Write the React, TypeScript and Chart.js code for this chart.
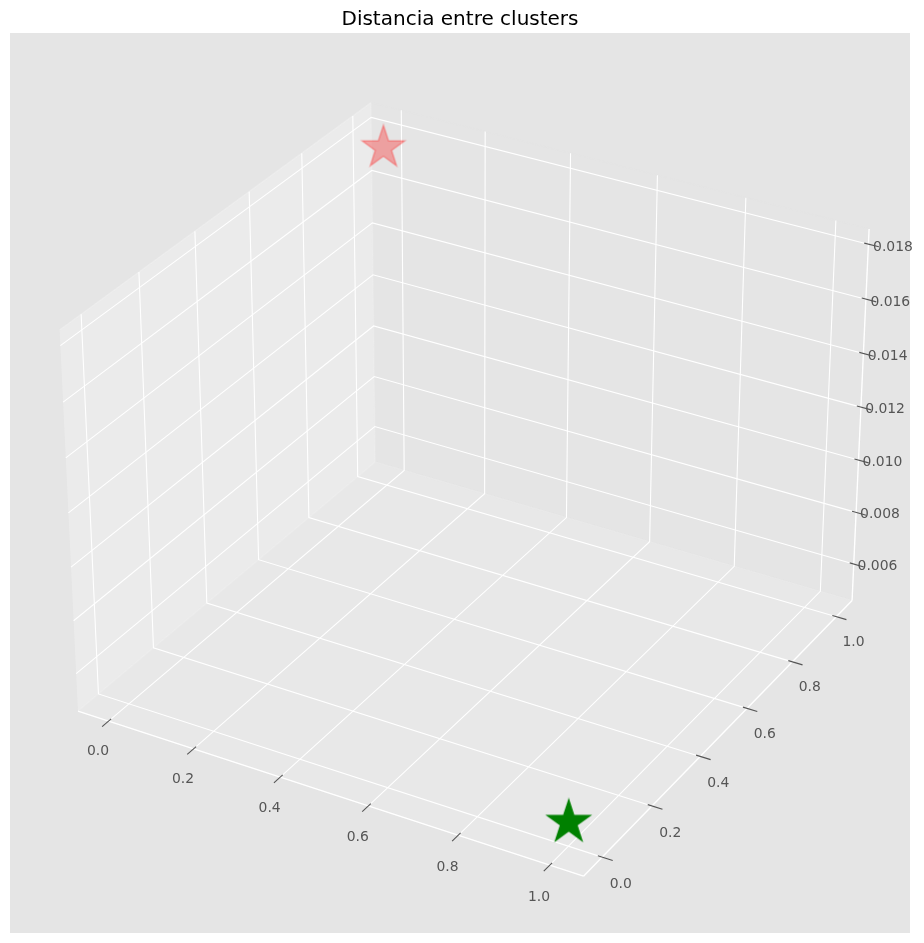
import { useEffect, useRef } from "react";
import { Chart, registerables } from "chart.js";

Chart.register(...registerables);

// --- data ---
const CLUSTER_NAMES = ["Cluster 0", "Cluster 1"];
const CLUSTER_X = [0, 1];
const CLUSTER_Y = [1, 0];
const CLUSTER_Z = [0.01766, 0.00546];
const CLUSTER_COLORS = ["rgba(255,0,0,0.3)", "rgba(0,128,0,1)"];

const X_TICK_LABELS = ["0.0", "0.2", "0.4", "0.6", "0.8", "1.0"];
const Y_TICK_LABELS = ["0.0", "0.2", "0.4", "0.6", "0.8", "1.0"];
const Z_TICK_LABELS = ["0.006", "0.008", "0.010", "0.012", "0.014", "0.016", "0.018"];

const TITLE = "Distancia entre clusters";

// --- 3d view (matplotlib default camera) ---
const ELEV = 30;
const AZIM = -60;
const DIST = 10;
const BOX_ASPECT = [4, 4, 3];
const VIEW_X = [-0.095, 0.09];
const VIEW_Y = [-0.095, 0.09];

const FONT = "'DejaVu Sans', sans-serif";
const TICK_COLOR = "#555555";

type Lim = [number, number];

function paddedLimits(values: number[]): Lim {
  const lo = Math.min(...values);
  const hi = Math.max(...values);
  const r = hi - lo;
  const a = lo - 0.05 * r;
  const b = hi + 0.05 * r;
  const pad = (b - a) / 48;
  return [a - pad, b + pad];
}

const LIM_X = paddedLimits(CLUSTER_X);
const LIM_Y = paddedLimits(CLUSTER_Y);
const LIM_Z = paddedLimits(CLUSTER_Z);

function makeProjector() {
  const n = Math.hypot(...BOX_ASPECT);
  const asp = BOX_ASPECT.map(v => (v * 1.8294640721620434 * 25) / 24 / n);
  const e = (ELEV * Math.PI) / 180;
  const a = (AZIM * Math.PI) / 180;
  const w = [Math.cos(e) * Math.cos(a), Math.cos(e) * Math.sin(a), Math.sin(e)];
  const eye = asp.map((v, i) => v / 2 + DIST * w[i]);
  const un = Math.hypot(w[0], w[1]);
  const u = [-w[1] / un, w[0] / un, 0];
  const v = [
    w[1] * u[2] - w[2] * u[1],
    w[2] * u[0] - w[0] * u[2],
    w[0] * u[1] - w[1] * u[0],
  ];
  const lims = [LIM_X, LIM_Y, LIM_Z];
  return (x: number, y: number, z: number) => {
    const p = [x, y, z].map((val, i) => ((val - lims[i][0]) / (lims[i][1] - lims[i][0])) * asp[i]);
    const d = p.map((val, i) => val - eye[i]);
    const xv = u[0] * d[0] + u[1] * d[1] + u[2] * d[2];
    const yv = v[0] * d[0] + v[1] * d[1] + v[2] * d[2];
    const zv = w[0] * d[0] + w[1] * d[1] + w[2] * d[2];
    return { x: xv / -zv, y: yv / -zv };
  };
}

const project = makeProjector();

function starImage(color: string, radius: number) {
  const size = 2 * Math.ceil(radius + 2);
  const c = document.createElement("canvas");
  c.width = size;
  c.height = size;
  const ctx = c.getContext("2d")!;
  const cx = size / 2;
  ctx.beginPath();
  for (let k = 0; k < 10; k++) {
    const ang = Math.PI / 2 + (k * Math.PI) / 5;
    const r = k % 2 === 0 ? radius : radius * 0.381966;
    const px = cx + r * Math.cos(ang);
    const py = cx - r * Math.sin(ang);
    if (k === 0) ctx.moveTo(px, py);
    else ctx.lineTo(px, py);
  }
  ctx.closePath();
  ctx.fillStyle = color;
  ctx.fill();
  ctx.strokeStyle = color;
  ctx.lineWidth = 1.39;
  ctx.lineJoin = "miter";
  ctx.stroke();
  return c;
}

const axes3dPlugin = {
  id: "axes3d",
  beforeDraw(chart: Chart) {
    const { ctx, chartArea } = chart;
    ctx.save();
    ctx.fillStyle = "#E5E5E5";
    ctx.fillRect(chartArea.left, chartArea.top, chartArea.right - chartArea.left, chartArea.bottom - chartArea.top);
    ctx.fillStyle = "#000000";
    ctx.font = `20px ${FONT}`;
    ctx.textAlign = "center";
    ctx.textBaseline = "alphabetic";
    ctx.fillText(TITLE, (chartArea.left + chartArea.right) / 2, chartArea.top - 8);
    ctx.restore();
  },
  beforeDatasetsDraw(chart: Chart) {
    const { ctx } = chart;
    const xs = chart.scales.x;
    const ys = chart.scales.y;
    const P = (x: number, y: number, z: number) => {
      const q = project(x, y, z);
      return [xs.getPixelForValue(q.x), ys.getPixelForValue(q.y)];
    };
    const [X0, X1] = LIM_X;
    const [Y0, Y1] = LIM_Y;
    const [Z0, Z1] = LIM_Z;
    const dx = X1 - X0, dy = Y1 - Y0, dz = Z1 - Z0;

    const poly = (pts: number[][], close: boolean) => {
      ctx.beginPath();
      pts.forEach((p, i) => {
        const [px, py] = P(p[0], p[1], p[2]);
        if (i === 0) ctx.moveTo(px, py);
        else ctx.lineTo(px, py);
      });
      if (close) ctx.closePath();
    };

    ctx.save();
    // panes
    const panes: [number[][], string][] = [
      [[[X0, Y0, Z0], [X0, Y1, Z0], [X0, Y1, Z1], [X0, Y0, Z1]], "rgba(242,242,242,0.5)"],
      [[[X0, Y1, Z0], [X1, Y1, Z0], [X1, Y1, Z1], [X0, Y1, Z1]], "rgba(230,230,230,0.5)"],
      [[[X0, Y0, Z0], [X1, Y0, Z0], [X1, Y1, Z0], [X0, Y1, Z0]], "rgba(236,236,236,0.5)"],
    ];
    for (const [pts, col] of panes) {
      poly(pts, true);
      ctx.fillStyle = col;
      ctx.fill();
      poly(pts, false);
      ctx.strokeStyle = col;
      ctx.lineWidth = 1.39;
      ctx.stroke();
    }

    // grid lines
    ctx.strokeStyle = "#FFFFFF";
    ctx.lineWidth = 1.1;
    X_TICK_LABELS.map(Number).forEach(t => {
      poly([[t, Y0, Z0], [t, Y1, Z0], [t, Y1, Z1]], false);
      ctx.stroke();
    });
    Y_TICK_LABELS.map(Number).forEach(t => {
      poly([[X1, t, Z0], [X0, t, Z0], [X0, t, Z1]], false);
      ctx.stroke();
    });
    Z_TICK_LABELS.map(Number).forEach(t => {
      poly([[X0, Y0, t], [X0, Y1, t], [X1, Y1, t]], false);
      ctx.stroke();
    });

    // axis lines
    ctx.lineWidth = 1.39;
    poly([[X0, Y0, Z0], [X1, Y0, Z0]], false);
    ctx.stroke();
    poly([[X1, Y0, Z0], [X1, Y1, Z0]], false);
    ctx.stroke();
    poly([[X1, Y1, Z0], [X1, Y1, Z1]], false);
    ctx.stroke();

    // ticks and labels
    const TIN = 0.008, TOUT = 0.02;
    ctx.strokeStyle = TICK_COLOR;
    ctx.lineWidth = 1.1;
    ctx.fillStyle = TICK_COLOR;
    ctx.font = `13.9px ${FONT}`;
    ctx.textAlign = "center";
    ctx.textBaseline = "middle";

    X_TICK_LABELS.forEach(lbl => {
      const t = Number(lbl);
      poly([[t, Y0 + TIN * dy, Z0], [t, Y0 - TOUT * dy, Z0]], false);
      ctx.stroke();
      const [lx, ly] = P(t, Y0 - 0.0355 * dy, Z0 - 0.057 * dz);
      ctx.fillText(lbl, lx, ly);
    });
    Y_TICK_LABELS.forEach(lbl => {
      const t = Number(lbl);
      poly([[X1 - TIN * dx, t, Z0], [X1 + TOUT * dx, t, Z0]], false);
      ctx.stroke();
      const [lx, ly] = P(X1 + 0.0359 * dx, t, Z0 - 0.057 * dz);
      ctx.fillText(lbl, lx, ly);
    });
    Z_TICK_LABELS.forEach(lbl => {
      const t = Number(lbl);
      poly([[X1 - TIN * dx, Y1, t], [X1 + TOUT * dx, Y1, t]], false);
      ctx.stroke();
      const [lx, ly] = P(X1 + 0.032 * dx, Y1 + 0.032 * dy, t - 0.016 * dz);
      ctx.fillText(lbl, lx, ly);
    });
    ctx.restore();
  },
};

export default function App() {
  const canvasRef = useRef<HTMLCanvasElement>(null);
  const chartRef = useRef<Chart | null>(null);

  useEffect(() => {
    if (!canvasRef.current) return;
    if (chartRef.current) chartRef.current.destroy();

    // farthest cluster first so the nearer one is drawn on top
    const datasets = CLUSTER_NAMES.map((name, i) => {
      const q = project(CLUSTER_X[i], CLUSTER_Y[i], CLUSTER_Z[i]);
      return {
        label: name,
        data: [{ x: q.x, y: q.y }],
        pointStyle: starImage(CLUSTER_COLORS[i], 22.4),
        pointRadius: 22,
        backgroundColor: CLUSTER_COLORS[i],
        borderColor: CLUSTER_COLORS[i],
      };
    });

    chartRef.current = new Chart(canvasRef.current, {
      type: "scatter",
      data: { datasets },
      options: {
        animation: false,
        responsive: true,
        maintainAspectRatio: false,
        events: [],
        layout: { autoPadding: false, padding: { left: 2, top: 25, right: 6, bottom: 1 } },
        plugins: {
          legend: { display: false },
          tooltip: { enabled: false },
          title: { display: false },
        },
        scales: {
          x: { type: "linear", display: false, min: VIEW_X[0], max: VIEW_X[1] },
          y: { type: "linear", display: false, min: VIEW_Y[0], max: VIEW_Y[1] },
        },
      },
      plugins: [axes3dPlugin],
    });

    return () => {
      chartRef.current?.destroy();
      chartRef.current = null;
    };
  }, []);

  return (
    <div style={{ position: "relative", width: 908, height: 926 }}>
      <canvas ref={canvasRef} />
    </div>
  );
}
